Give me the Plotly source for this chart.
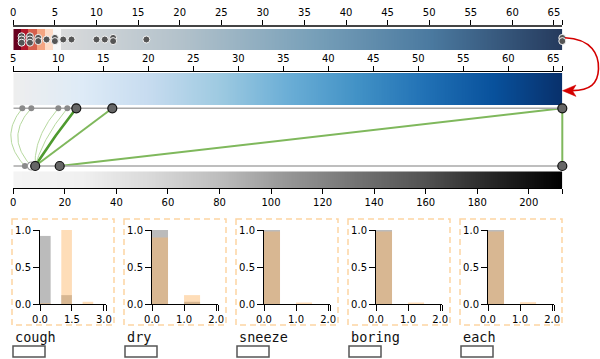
import numpy as np
import plotly.graph_objects as go

W, H = 600, 359

# ---- top strip: full value range, with counts of highlighted items ----
top_max = 66
top_ticks = list(range(0, 66, 5))
top_vals = [1, 2, 3, 4, 5, 6, 7, 10, 11, 12, 16, 66]
top_counts = [3, 3, 2, 1, 2, 1, 1, 1, 1, 2, 1, 2]
# stepped reds for the small values, then a grey-to-navy ramp
red_edges = [0, 0.9, 1.8, 2.8, 3.8, 4.8, 5.7]
red_colors = ["#67001f", "#b2182b", "#d6604d", "#f4a582", "#fddbc7", "#f7f7f7"]
ramp_stops = [5.7, 20, 36, 50, 66]
ramp_colors = ["#d9dadb", "#b3c2cb", "#78a0b9", "#4b7aa0", "#253a5d"]

# ---- middle strip: zoomed range 5..66 ----
mid_min, mid_max = 5, 66
mid_ticks = list(range(5, 66, 5))
mid_small = [6, 7, 10, 11]
mid_big = [12, 16, 66]
blues = ["#eeeeee", "#deebf7", "#c6dbef", "#9ecae1", "#6baed6",
         "#4292c6", "#2171b5", "#08519c", "#08306b"]

# ---- bottom strip: 0..213 ----
bot_max = 213
bot_ticks = list(range(0, 201, 20))
bot_small = [4.5]
bot_hollow = [7]
bot_big = [8.5, 18, 213]
greys = ["#f4f4f4", "#f0f0f0", "#d9d9d9", "#bdbdbd", "#969696",
         "#737373", "#525252", "#252525", "#000000"]

# ---- links between middle and bottom strips ----
link_src = [12, 16, 66, 66, 6, 7, 10, 11]
link_dst = [8.5, 8.5, 18, 213, 4.5, 7, 8.5, 8.5]
link_strength = [3, 2, 2, 2, 1, 1, 1, 1]

# ---- small multiples ----
panel_names = ["cough", "dry", "sneeze", "boring", "each"]
panel_xmax = [3.1, 2.06, 2.06, 2.06, 2.06]
panel_xticks = [[0, 1.5, 3.0], [0, 1, 2], [0, 1, 2], [0, 1, 2], [0, 1, 2]]
bin_left = [0, 1.0, 2.0]
grey_hist = [[0.92, 0.12, 0.0], [1.0, 0.03, 0.0], [1.0, 0.0, 0.0],
             [1.0, 0.0, 0.0], [1.0, 0.0, 0.0]]
orange_hist = [[0.01, 1.0, 0.03], [0.9, 0.12, 0.0], [0.98, 0.02, 0.0],
               [0.98, 0.02, 0.0], [0.98, 0.025, 0.0]]
bin_width = 0.5

# ------------------------------------------------------------------
X0, X1 = 13.3, 562.3          # horizontal extent of the strips (px)
MID_ROW, BOT_ROW = 108.3, 166.0
FONT = "DejaVu Sans"


def row(px):
    return 1 - px / H


def to_px(v, lo, hi):
    return X0 + (v - lo) / (hi - lo) * (X1 - X0)


def scale(stops, colors, lo, hi):
    return [[(s - lo) / (hi - lo), c] for s, c in zip(stops, colors)]


fig = go.Figure()

# links (pixel overlay subplot, drawn first so dots sit on top)
link_style = {3: ("#4e9a2f", 2.6), 2: ("#7fb85c", 2.0), 1: ("#b7d9a0", 1.0)}
t = np.linspace(0, 1, 40)
for s, d, k in zip(link_src, link_dst, link_strength):
    xa = to_px(s, mid_min, mid_max)
    xb = to_px(d, 0, bot_max)
    # short links near the left end are drawn as bowed arcs
    bend = 0.4 * max(0.0, 45 - abs(xa - xb)) if xa < 100 else 0.0
    p0 = np.array([xa, MID_ROW])
    p3 = np.array([xb, BOT_ROW])
    p1 = p0 + (p3 - p0) / 3 + np.array([-bend, 0])
    p2 = p0 + 2 * (p3 - p0) / 3 + np.array([-bend, 0])
    pts = ((1 - t) ** 3)[:, None] * p0 + (3 * (1 - t) ** 2 * t)[:, None] * p1 \
        + (3 * (1 - t) * t ** 2)[:, None] * p2 + (t ** 3)[:, None] * p3
    col, w = link_style[k]
    fig.add_trace(go.Scatter(x=pts[:, 0], y=pts[:, 1], mode="lines",
                             line=dict(color=col, width=w),
                             xaxis="x", yaxis="y", hoverinfo="skip"))

# top strip colour band
edges = np.round(np.arange(0, top_max + 1e-9, 0.1), 4)
mids = (edges[:-1] + edges[1:]) / 2
top_scale = []
for i, c in enumerate(red_colors):
    top_scale.append([red_edges[i] / top_max, c])
    top_scale.append([red_edges[i + 1] / top_max, c])
top_scale += scale(ramp_stops, ramp_colors, 0, top_max)
fig.add_trace(go.Heatmap(x=edges, y=[29, 50], z=[mids], zmin=0, zmax=top_max,
                         colorscale=top_scale, showscale=False,
                         xaxis="x2", yaxis="y2", hoverinfo="skip"))
dx, dy = [], []
for v, n in zip(top_vals, top_counts):
    for j in range(n):
        dx.append(v)
        dy.append(39.5 + (j - (n - 1) / 2) * 3.2)
fig.add_trace(go.Scatter(x=dx, y=dy, mode="markers", cliponaxis=False,
                         marker=dict(size=7, color="#555555",
                                     line=dict(color="#f4f4f4", width=1)),
                         xaxis="x2", yaxis="y2", hoverinfo="skip"))

# middle strip
medges = np.round(np.linspace(mid_min, mid_max, 611), 4)
mmids = (medges[:-1] + medges[1:]) / 2
fig.add_trace(go.Heatmap(x=medges, y=[73, 105], z=[mmids], zmin=mid_min, zmax=mid_max,
                         colorscale=[[i / 8, c] for i, c in enumerate(blues)],
                         showscale=False, xaxis="x3", yaxis="y3", hoverinfo="skip"))
fig.add_trace(go.Scatter(x=[mid_min, mid_max], y=[MID_ROW, MID_ROW], mode="lines",
                         line=dict(color="#a8a8a8", width=1.5), cliponaxis=False,
                         xaxis="x3", yaxis="y3", hoverinfo="skip"))
fig.add_trace(go.Scatter(x=mid_small, y=[MID_ROW] * len(mid_small), mode="markers",
                         marker=dict(size=6, color="#8a8a8a"), cliponaxis=False,
                         xaxis="x3", yaxis="y3", hoverinfo="skip"))
fig.add_trace(go.Scatter(x=mid_big, y=[MID_ROW] * len(mid_big), mode="markers",
                         marker=dict(size=9, color="#666666",
                                     line=dict(color="#111111", width=1.2)),
                         cliponaxis=False, xaxis="x3", yaxis="y3", hoverinfo="skip"))

# bottom strip
bedges = np.round(np.linspace(0, bot_max, 611), 4)
bmids = (bedges[:-1] + bedges[1:]) / 2
fig.add_trace(go.Heatmap(x=bedges, y=[171.5, 188], z=[bmids], zmin=0, zmax=bot_max,
                         colorscale=[[i / 8, c] for i, c in enumerate(greys)],
                         showscale=False, xaxis="x4", yaxis="y4", hoverinfo="skip"))
fig.add_trace(go.Scatter(x=[0, bot_max], y=[BOT_ROW, BOT_ROW], mode="lines",
                         line=dict(color="#a8a8a8", width=1.5), cliponaxis=False,
                         xaxis="x4", yaxis="y4", hoverinfo="skip"))
fig.add_trace(go.Scatter(x=bot_small, y=[BOT_ROW] * len(bot_small), mode="markers",
                         marker=dict(size=6, color="#8a8a8a"), cliponaxis=False,
                         xaxis="x4", yaxis="y4", hoverinfo="skip"))
fig.add_trace(go.Scatter(x=bot_hollow, y=[BOT_ROW] * len(bot_hollow), mode="markers",
                         marker=dict(size=8, color="#ffffff",
                                     line=dict(color="#999999", width=1.2)),
                         cliponaxis=False, xaxis="x4", yaxis="y4", hoverinfo="skip"))
fig.add_trace(go.Scatter(x=bot_big, y=[BOT_ROW] * len(bot_big), mode="markers",
                         marker=dict(size=9, color="#666666",
                                     line=dict(color="#111111", width=1.2)),
                         cliponaxis=False, xaxis="x4", yaxis="y4", hoverinfo="skip"))

# small multiples
for i in range(len(panel_names)):
    xa, ya = f"x{5 + i}", f"y{5 + i}"
    centers = [b + bin_width / 2 for b in bin_left]
    fig.add_trace(go.Bar(x=centers, y=grey_hist[i], width=bin_width,
                         marker=dict(color="#bbbbbb", line=dict(width=0)),
                         xaxis=xa, yaxis=ya, hoverinfo="skip"))
    fig.add_trace(go.Bar(x=centers, y=orange_hist[i], width=bin_width,
                         marker=dict(color="rgba(253,180,98,0.45)", line=dict(width=0)),
                         xaxis=xa, yaxis=ya, hoverinfo="skip"))

axis_common = dict(ticks="outside", ticklen=6, tickwidth=1, tickcolor="black",
                   showline=True, linecolor="black", linewidth=1,
                   showgrid=False, zeroline=False, fixedrange=True, automargin=False,
                   tickfont=dict(family=FONT, size=10, color="black"))

layout = dict(
    width=W, height=H, autosize=False,
    margin=dict(l=0, r=0, t=0, b=0, pad=0, autoexpand=False),
    paper_bgcolor="white", plot_bgcolor="rgba(0,0,0,0)",
    showlegend=False, barmode="overlay", font=dict(family=FONT, size=10),
    xaxis=dict(domain=[0, 1], range=[0, W], visible=False, fixedrange=True),
    yaxis=dict(domain=[0, 1], range=[H, 0], visible=False, fixedrange=True),
    xaxis2=dict(axis_common, anchor="y2", side="top", domain=[X0 / W, X1 / W],
                range=[0, top_max], tickvals=top_ticks + [top_max],
                ticktext=[str(v) for v in top_ticks] + [""], ticklen=5,
                linecolor="#444444", linewidth=1.5),
    yaxis2=dict(anchor="x2", domain=[row(51), row(27)], range=[51, 27], visible=False),
    xaxis3=dict(axis_common, anchor="y3", side="top", domain=[X0 / W, X1 / W],
                range=[mid_min, mid_max], tickvals=mid_ticks + [mid_max],
                ticktext=[str(v) for v in mid_ticks] + [""], ticklen=5),
    yaxis3=dict(anchor="x3", domain=[row(113), row(72)], range=[113, 72], visible=False),
    xaxis4=dict(axis_common, anchor="y4", side="bottom", domain=[X0 / W, X1 / W],
                range=[0, bot_max], tickvals=bot_ticks + [bot_max],
                ticktext=[str(v) for v in bot_ticks] + [""], ticklen=5),
    yaxis4=dict(anchor="x4", domain=[row(188), row(160)], range=[188, 160], visible=False),
)

shapes = []
annotations = []
for i, name in enumerate(panel_names):
    left = 40 + 112 * i
    ticks = panel_xticks[i]
    layout[f"xaxis{5 + i}"] = dict(axis_common, anchor=f"y{5 + i}",
                                   domain=[left / W, (left + 66) / W],
                                   range=[0, panel_xmax[i]],
                                   tickvals=ticks + [panel_xmax[i]],
                                   ticktext=[f"{v:.1f}" for v in ticks] + [""])
    layout[f"yaxis{5 + i}"] = dict(axis_common, anchor=f"x{5 + i}",
                                   domain=[row(304), row(230)], range=[0, 1],
                                   tickvals=[0, 0.5, 1.0],
                                   ticktext=["0.0", "0.5", "1.0"])
    shapes.append(dict(type="rect", xref="x", yref="y",
                       x0=left - 28, x1=left + 74, y0=219, y1=325,
                       line=dict(color="#fdd5a2", width=1.5, dash="6px,4px")))
    shapes.append(dict(type="rect", xref="x", yref="y",
                       x0=left - 27, x1=left + 5, y0=346, y1=357,
                       line=dict(color="#555555", width=1.5), fillcolor="white"))
    annotations.append(dict(xref="x", yref="y", x=left - 27, y=336.5, text=name,
                            showarrow=False, xanchor="left", yanchor="middle",
                            font=dict(family="DejaVu Sans Mono", size=13.5,
                                      color="#111111")))

# curved red arrow from the top strip's end down to the zoomed strip
shapes.append(dict(type="path", xref="x", yref="y", layer="above",
                   path="M 565,37.8 C 592,39 599,55 598.5,69 C 598,84 590,90.2 572,90.6",
                   line=dict(color="#d40000", width=1.6)))
shapes.append(dict(type="path", xref="x", yref="y", layer="above",
                   path="M 562.5,90.7 L 576,85 L 572.5,90.7 L 576,96.4 Z",
                   fillcolor="#d40000", line=dict(color="#d40000", width=0.5)))

layout["shapes"] = shapes
layout["annotations"] = annotations
fig.update_layout(**layout)

fig.write_html("out.html")
